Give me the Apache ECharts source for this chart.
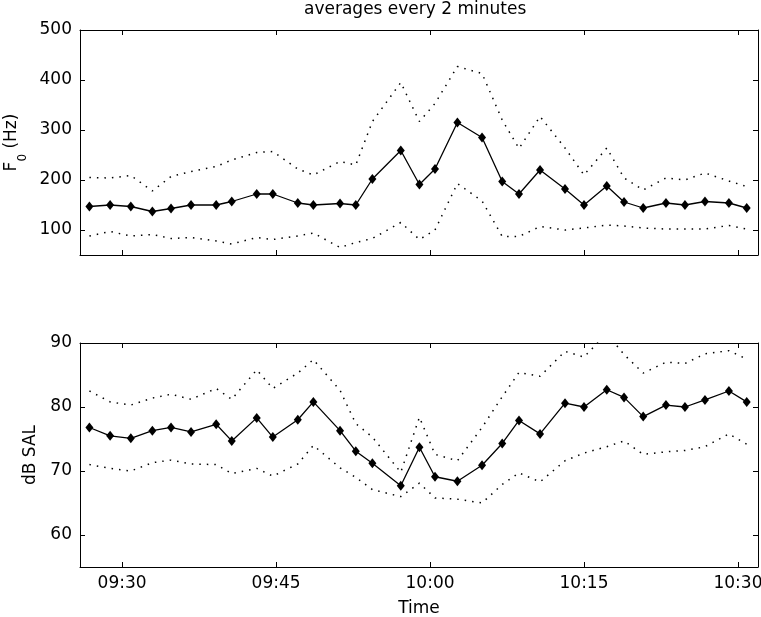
<!DOCTYPE html>
<html>
<head>
<meta charset="utf-8">
<script src="https://cdn.jsdelivr.net/npm/echarts@6/dist/echarts.min.js"></script>
<style>
html,body{margin:0;padding:0;background:#fff;}
#chart{width:761px;height:617px;}
</style>
</head>
<body>
<div id="chart"></div>
<script>
// ---- data ----
const titleText = 'averages every 2 minutes';
const times = ['09:26:49','09:28:50','09:30:51','09:32:57','09:34:46','09:36:43','09:39:10','09:40:41',
  '09:43:07','09:44:41','09:47:07','09:48:38','09:51:14','09:52:46','09:54:23','09:57:09','09:58:58',
  '10:00:29','10:02:40','10:05:04','10:07:02','10:08:40','10:10:43','10:13:09','10:15:00','10:17:13',
  '10:18:54','10:20:46','10:22:59','10:24:50','10:26:47','10:29:07','10:30:51'];
const f0Mean  = [147,150,147,137,143,150,150,157,172,172,154,150,153,150,202,259,191,222,315,285,197,172,220,182,150,188,156,144,154,150,157,154,144];
const f0Upper = [205,204,209,178,207,217,227,240,255,257,222,210,237,230,317,395,317,353,427,413,320,263,327,264,210,264,204,180,204,200,214,198,187];
const f0Lower = [88,97,88,91,83,85,78,72,85,81,88,94,65,75,83,115,81,100,193,158,87,87,107,100,104,110,108,104,102,102,102,109,102];
const dbMean  = [76.8,75.5,75.1,76.3,76.8,76.1,77.3,74.7,78.3,75.3,78.0,80.8,76.3,73.1,71.2,67.7,73.7,69.1,68.4,70.9,74.3,77.9,75.8,80.6,80.0,82.7,81.5,78.5,80.3,80.0,81.1,82.5,80.8];
const dbUpper = [82.5,80.8,80.3,81.4,82.0,81.2,82.9,81.2,85.8,82.9,85.3,87.4,82.6,77.4,75.3,69.8,78.4,72.6,71.6,76.8,81.6,85.4,84.8,88.7,87.8,91.5,88.2,85.3,87.0,86.8,88.3,88.8,87.5];
const dbLower = [71.0,70.4,70.0,71.3,71.7,71.1,71.0,69.6,70.4,69.2,71.1,74.0,70.5,69.0,67.1,66.0,68.1,65.8,65.6,65.0,67.9,69.7,68.3,71.6,72.8,73.8,74.7,72.6,73.0,73.2,73.8,75.8,74.2];
const xTickLabels = ['09:30','09:45','10:00','10:15','10:30'];
const xRange = ['09:25:54','10:31:57'];
const f0Ticks = [100,200,300,400,500];
const f0Range = [50,500];
const dbTicks = [60,70,80,90];
const dbRange = [55,90];

// ---- helpers ----
function toMin(s){ const p = s.split(':').map(Number); return p[0]*60 + p[1] + (p[2]||0)/60; }
function fmt(m){ const h = Math.floor(m/60), mm = Math.round(m - h*60); return (h<10?'0':'')+h+':'+(mm<10?'0':'')+mm; }
const tx = times.map(toMin);
const pairs = arr => arr.map((v,i)=>[tx[i], v]);
const xTicks = xTickLabels.map(toMin);
const xMin = toMin(xRange[0]), xMax = toMin(xRange[1]);

const FONT = 'DejaVu Sans';
const axisLine = {show:true, onZero:false, lineStyle:{color:'#000', width:1}};
const tick = vals => ({show:true, inside:true, length:5, lineStyle:{color:'#000', width:1}, customValues: vals});

function xAxisDef(grid, pos, labels, name){
  return {
    type:'value', gridIndex:grid, position:pos, min:xMin, max:xMax,
    axisLine, axisTick: tick(xTicks), splitLine:{show:false},
    axisLabel: labels ? {show:true, customValues:xTicks, formatter:v=>fmt(v), color:'#000', fontFamily:FONT, fontSize:17, margin:8} : {show:false},
    name: name || '', nameLocation:'middle', nameGap:33,
    nameTextStyle:{color:'#000', fontFamily:FONT, fontSize:17}
  };
}
function yAxisDef(grid, pos, range, ticks, labels, name, gap){
  return {
    type:'value', gridIndex:grid, position:pos, min:range[0], max:range[1],
    axisLine, axisTick: tick(ticks), splitLine:{show:false},
    axisLabel: labels ? {show:true, customValues:ticks, color:'#000', fontFamily:FONT, fontSize:17, margin:8} : {show:false},
    name: name || '', nameLocation:'middle', nameGap:gap||0, nameRotate:90,
    nameTextStyle:{color:'#000', fontFamily:FONT, fontSize:17,
      rich:{ m:{fontFamily:FONT, fontSize:17, color:'#000', lineHeight:34, verticalAlign:'middle'},
             s:{fontFamily:FONT, fontSize:12, color:'#000', lineHeight:34, verticalAlign:'bottom'} }}
  };
}

const meanStyle = {
  type:'line', symbol:'diamond', symbolSize:[8,10], showSymbol:true,
  itemStyle:{color:'#000'}, lineStyle:{color:'#000', width:1.3}, z:3
};
const dotStyle = {
  type:'line', symbol:'none', lineStyle:{color:'#000', width:1.5, type:[1.5,6]}, z:2
};

const option = {
  animation:false,
  backgroundColor:'#fff',
  title:{text:titleText, left:304, top:1, padding:0,
    textStyle:{fontFamily:FONT, fontSize:17, fontWeight:'normal', color:'#000'}},
  grid:[
    {left:80, top:30, width:678, height:225, containLabel:false, outerBoundsMode:'none'},
    {left:80, top:343, width:678, height:224, containLabel:false, outerBoundsMode:'none'}
  ],
  xAxis:[
    xAxisDef(0,'bottom',false),
    xAxisDef(0,'top',false),
    xAxisDef(1,'bottom',true,'Time'),
    xAxisDef(1,'top',false)
  ],
  yAxis:[
    yAxisDef(0,'left',f0Range,f0Ticks,true,'{m|F}{s|0}{m| (Hz)}',50),
    yAxisDef(0,'right',f0Range,f0Ticks,false),
    yAxisDef(1,'left',dbRange,dbTicks,true,'dB SAL',38),
    yAxisDef(1,'right',dbRange,dbTicks,false)
  ],
  series:[
    Object.assign({}, dotStyle, {xAxisIndex:0, yAxisIndex:0, data:pairs(f0Upper)}),
    Object.assign({}, dotStyle, {xAxisIndex:0, yAxisIndex:0, data:pairs(f0Lower)}),
    Object.assign({}, meanStyle, {xAxisIndex:0, yAxisIndex:0, data:pairs(f0Mean)}),
    Object.assign({}, dotStyle, {xAxisIndex:2, yAxisIndex:2, data:pairs(dbUpper)}),
    Object.assign({}, dotStyle, {xAxisIndex:2, yAxisIndex:2, data:pairs(dbLower)}),
    Object.assign({}, meanStyle, {xAxisIndex:2, yAxisIndex:2, data:pairs(dbMean)})
  ]
};
const chart = echarts.init(document.getElementById('chart'), null, {renderer:'canvas'});
chart.setOption(option);
</script>
</body>
</html>
